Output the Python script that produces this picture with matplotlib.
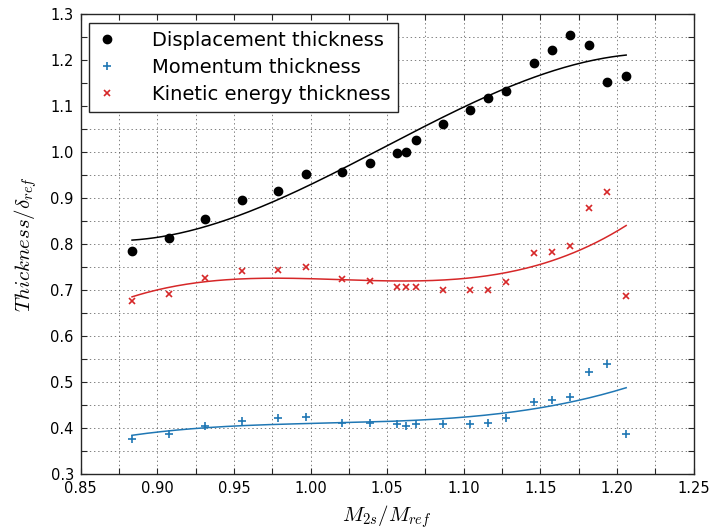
import numpy as np
import matplotlib
matplotlib.use("Agg")
import matplotlib.pyplot as plt
from matplotlib.ticker import MultipleLocator

# Mach ratio of each measurement
mach_ratio = [0.8835, 0.9074, 0.9313, 0.9550, 0.9790, 0.9968, 1.0206, 1.0388,
              1.0567, 1.0624, 1.0686, 1.0862, 1.1043, 1.1161, 1.1279, 1.1458,
              1.1578, 1.1696, 1.1815, 1.1935, 1.2060]

displacement = [0.785, 0.814, 0.855, 0.895, 0.916, 0.952, 0.956, 0.976,
                0.998, 0.999, 1.027, 1.060, 1.092, 1.117, 1.133, 1.194,
                1.221, 1.254, 1.233, 1.152, 1.166]

momentum = [0.377, 0.387, 0.405, 0.416, 0.421, 0.425, 0.412, 0.412,
            0.408, 0.405, 0.408, 0.408, 0.408, 0.410, 0.421, 0.456,
            0.460, 0.468, 0.522, 0.539, 0.388]

kinetic = [0.676, 0.692, 0.726, 0.741, 0.743, 0.751, 0.724, 0.720,
           0.707, 0.706, 0.706, 0.701, 0.699, 0.701, 0.717, 0.780,
           0.783, 0.795, 0.879, 0.914, 0.688]

series = [
    ("Displacement thickness", displacement, "k", "o", dict(ms=6, mec="k")),
    ("Momentum thickness", momentum, "#1f77b4", "+", dict(ms=5.5, mew=1.2)),
    ("Kinetic energy thickness", kinetic, "#d62728", "x", dict(ms=5, mew=1.2)),
]

plt.rcParams.update({
    "font.family": "DejaVu Sans",
    "mathtext.fontset": "cm",
    "xtick.direction": "in",
    "ytick.direction": "in",
    "xtick.top": True,
    "ytick.right": True,
})

fig = plt.figure(figsize=(7.11, 5.31), dpi=100)
ax = fig.add_axes([0.1135, 0.1073, 0.862, 0.8663])

x = np.asarray(mach_ratio)
x_fit = np.linspace(x.min(), x.max(), 200)
for label, vals, color, marker, kw in series:
    y = np.asarray(vals)
    ax.plot(x, y, linestyle="none", marker=marker, color=color, label=label, **kw)
    # cubic least-squares trend through the measurements
    coeffs = np.polyfit(x, y, 3)
    ax.plot(x_fit, np.polyval(coeffs, x_fit), color=color, lw=1.1)

ax.set_xlim(0.85, 1.25)
ax.set_ylim(0.3, 1.3)
ax.xaxis.set_major_locator(MultipleLocator(0.05))
ax.xaxis.set_minor_locator(MultipleLocator(0.025))
ax.yaxis.set_major_locator(MultipleLocator(0.1))
ax.yaxis.set_minor_locator(MultipleLocator(0.05))
ax.grid(True, which="both", linestyle=(0, (2, 4)), color="0.3", linewidth=0.5)
ax.tick_params(which="both", length=4, width=0.8, color="0.15")
ax.tick_params(which="major", labelsize=10.5, pad=5)
for s in ax.spines.values():
    s.set_linewidth(1.0)
    s.set_color("0.15")

ax.set_xlabel(r"$M_{2s}/M_{ref}$", fontsize=15, labelpad=5)
ax.set_ylabel(r"$Thickness/\delta_{ref}$", fontsize=15, labelpad=8)

leg = ax.legend(loc="upper left", numpoints=1, fontsize=14, fancybox=False,
                framealpha=1, edgecolor="0.15", borderaxespad=0.45,
                handlelength=1.0, handletextpad=1.8, labelspacing=0.42,
                borderpad=0.4)
leg.get_frame().set_linewidth(1.0)

fig.savefig("out.png", dpi=100)
